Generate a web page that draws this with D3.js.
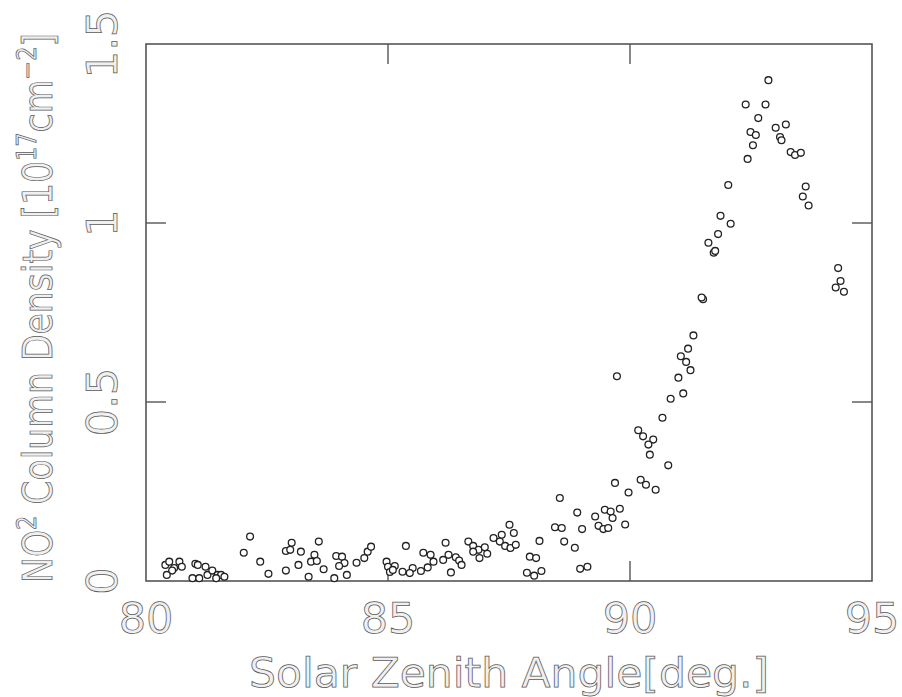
<!DOCTYPE html>
<html>
<head>
<meta charset="utf-8">
<script src="https://cdn.jsdelivr.net/npm/d3@7"></script>
<style>
  body { margin: 0; background: #fff; }
  text { font-family: "DejaVu Sans", sans-serif; fill: #f0f0f0; stroke: #5a5a5a; stroke-width: 0.75; }
</style>
</head>
<body>
<div id="chart"></div>
<script>
// solar zenith angle [deg]
const sza = [
  80.40, 80.48, 80.58, 80.69, 80.74, 80.54, 80.43, 81.02, 81.07, 81.23,
  80.96, 81.10, 81.27, 81.37, 81.48, 81.55, 81.62, 81.45, 82.15, 82.02,
  82.36, 82.53, 82.89, 82.98, 83.01, 83.20, 83.57, 83.15, 82.89, 83.48,
  83.41, 83.53, 83.67, 83.36, 83.93, 84.05, 84.10, 83.99, 84.15, 83.89,
  84.35, 84.51, 84.58, 84.65, 84.97, 85.00, 85.04, 85.30, 85.14, 85.10,
  85.37, 85.51, 85.45, 85.68, 85.82, 85.94, 85.73, 85.88, 86.19, 86.25,
  86.14, 86.40, 86.47, 86.52, 86.30, 86.66, 86.76, 86.87, 87.00, 87.05,
  86.89, 86.76, 87.18, 87.31, 87.42, 87.53, 87.64, 87.35, 87.51, 87.60,
  87.93, 88.06, 88.17, 87.87, 88.02, 88.13, 88.45, 88.59, 88.64, 88.86,
  88.55, 88.97, 89.12, 88.91, 89.01, 89.28, 89.35, 89.45, 89.48, 89.55,
  89.60, 89.64, 89.79, 89.90, 89.69, 89.97, 90.22, 90.33, 90.53, 89.73,
  90.17, 90.27, 90.48, 90.38, 90.41, 90.79, 90.67, 90.84, 91.10, 91.00,
  91.05, 91.16, 91.25, 91.20, 91.31, 91.51, 91.48, 91.73, 91.76, 91.62,
  91.82, 91.87, 92.08, 92.03, 92.43, 92.54, 92.49, 92.60, 92.65, 92.39,
  92.80, 92.86, 93.01, 93.22, 93.10, 93.13, 93.32, 93.41, 93.53, 93.63,
  93.57, 93.69, 94.30, 94.35, 94.25, 94.42
];

// NO2 column density [1e17 cm^-2]
const no2 = [
  0.045, 0.054, 0.036, 0.054, 0.040, 0.029, 0.017, 0.048, 0.045, 0.040,
  0.008, 0.008, 0.017, 0.029, 0.017, 0.017, 0.012, 0.008, 0.124, 0.079,
  0.054, 0.020, 0.084, 0.087, 0.107, 0.082, 0.110, 0.045, 0.029, 0.073,
  0.054, 0.056, 0.033, 0.012, 0.070, 0.068, 0.050, 0.042, 0.017, 0.008,
  0.051, 0.064, 0.082, 0.096, 0.054, 0.040, 0.025, 0.026, 0.042, 0.031,
  0.098, 0.036, 0.022, 0.028, 0.038, 0.054, 0.079, 0.073, 0.107, 0.073,
  0.059, 0.066, 0.057, 0.045, 0.024, 0.110, 0.098, 0.087, 0.094, 0.076,
  0.064, 0.082, 0.120, 0.110, 0.098, 0.092, 0.101, 0.129, 0.157, 0.134,
  0.068, 0.064, 0.028, 0.023, 0.015, 0.112, 0.150, 0.148, 0.110, 0.093,
  0.232, 0.034, 0.040, 0.191, 0.145, 0.180, 0.154, 0.145, 0.199, 0.148,
  0.194, 0.176, 0.202, 0.158, 0.274, 0.247, 0.283, 0.269, 0.255, 0.572,
  0.421, 0.404, 0.395, 0.381, 0.353, 0.323, 0.456, 0.509, 0.524, 0.568,
  0.628, 0.612, 0.589, 0.649, 0.686, 0.787, 0.792, 0.917, 0.922, 0.945,
  0.969, 1.020, 0.998, 1.106, 1.179, 1.217, 1.254, 1.246, 1.293, 1.331,
  1.331, 1.399, 1.266, 1.275, 1.240, 1.231, 1.198, 1.190, 1.196, 1.102,
  1.074, 1.049, 0.874, 0.838, 0.820, 0.808
];

const xTicks = [80, 85, 90, 95];
const yTicks = [0, 0.5, 1, 1.5];

const width = 902, height = 697;
const m = { left: 146, right: 30, top: 44, bottom: 116 };

const svg = d3.select("#chart").append("svg")
  .attr("width", width)
  .attr("height", height);

const x = d3.scaleLinear().domain([80, 95]).range([m.left, width - m.right]);
const y = d3.scaleLinear().domain([0, 1.5]).range([height - m.bottom, m.top]);

const tickLen = 20;

// inner ticks on all four sides, only the inner values get a mark
const inner = (v, d) => v > d[0] && v < d[1];

const g = svg.append("g");

g.selectAll(".xtb").data(xTicks.filter(v => inner(v, x.domain()))).enter()
  .append("line")
  .attr("x1", d => x(d)).attr("x2", d => x(d))
  .attr("y1", y(0)).attr("y2", y(0) - tickLen)
  .attr("stroke", "#555").attr("stroke-width", 1.4);

g.selectAll(".xtt").data(xTicks.filter(v => inner(v, x.domain()))).enter()
  .append("line")
  .attr("x1", d => x(d)).attr("x2", d => x(d))
  .attr("y1", y(1.5)).attr("y2", y(1.5) + tickLen)
  .attr("stroke", "#555").attr("stroke-width", 1.4);

g.selectAll(".ytl").data(yTicks.filter(v => inner(v, y.domain()))).enter()
  .append("line")
  .attr("x1", x(80)).attr("x2", x(80) + tickLen)
  .attr("y1", d => y(d)).attr("y2", d => y(d))
  .attr("stroke", "#555").attr("stroke-width", 1.4);

g.selectAll(".ytr").data(yTicks.filter(v => inner(v, y.domain()))).enter()
  .append("line")
  .attr("x1", x(95)).attr("x2", x(95) - tickLen)
  .attr("y1", d => y(d)).attr("y2", d => y(d))
  .attr("stroke", "#555").attr("stroke-width", 1.4);

// frame
g.append("rect")
  .attr("x", x(80)).attr("y", y(1.5))
  .attr("width", x(95) - x(80)).attr("height", y(0) - y(1.5))
  .attr("fill", "none").attr("stroke", "#555").attr("stroke-width", 1.6);

// tick labels
svg.selectAll(".xl").data(xTicks).enter()
  .append("text")
  .attr("x", d => x(d)).attr("y", 633)
  .attr("text-anchor", "middle")
  .attr("font-size", 43)
  .text(d => d);

svg.selectAll(".yl").data(yTicks).enter()
  .append("text")
  .attr("transform", d => `translate(117,${y(d)}) rotate(-90)`)
  .attr("text-anchor", "middle")
  .attr("font-size", 43)
  .text(d => d);

// axis titles
svg.append("text")
  .attr("x", (x(80) + x(95)) / 2).attr("y", 687)
  .attr("text-anchor", "middle")
  .attr("font-size", 41)
  .attr("textLength", 520).attr("lengthAdjust", "spacingAndGlyphs")
  .text("Solar Zenith Angle[deg.]");

const yt = svg.append("text")
  .attr("transform", "translate(52,308) rotate(-90)")
  .attr("text-anchor", "middle")
  .attr("font-size", 40)
  .attr("textLength", 550).attr("lengthAdjust", "spacingAndGlyphs");
yt.append("tspan").text("NO");
yt.append("tspan").attr("dy", -16).attr("font-size", 26).text("2");
yt.append("tspan").attr("dy", 16).text(" Column Density [10");
yt.append("tspan").attr("dy", -16).attr("font-size", 26).text("17");
yt.append("tspan").attr("dy", 16).text("cm");
yt.append("tspan").attr("dy", -16).attr("font-size", 26).text("\u22122");
yt.append("tspan").attr("dy", 16).text("]");

// data points
svg.append("g").selectAll("circle")
  .data(sza.map((s, i) => [s, no2[i]]))
  .enter().append("circle")
  .attr("cx", d => x(d[0]))
  .attr("cy", d => y(d[1]))
  .attr("r", 3.4)
  .attr("fill", "#fff")
  .attr("stroke", "#222")
  .attr("stroke-width", 1.3);
</script>
</body>
</html>
